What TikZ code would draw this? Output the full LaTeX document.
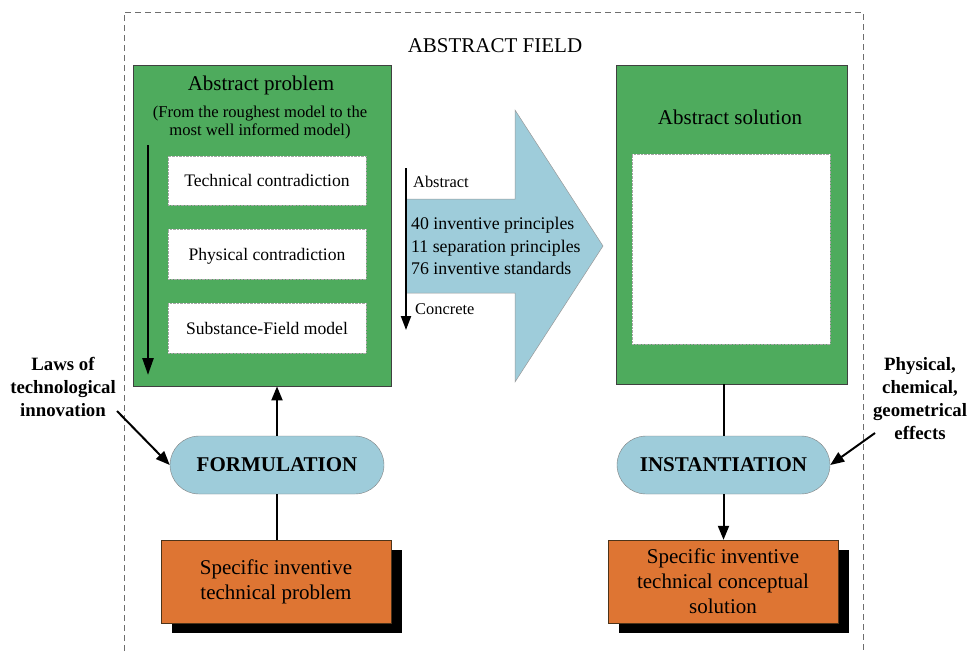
\documentclass[tikz,border=0pt]{standalone}
\usepackage{fontspec}
\setmainfont{Liberation Serif}
\usetikzlibrary{arrows.meta,shadows,calc}
\definecolor{boxgreen}{HTML}{4EAB5D}
\definecolor{pillblue}{HTML}{9ECCDA}
\definecolor{boxorange}{HTML}{DE7533}
\definecolor{framegray}{HTML}{6E6E6E}
\begin{document}
\begin{tikzpicture}[x=1pt,y=-1pt,
  greenbox/.style={draw=black!75, fill=boxgreen, line width=0.8pt, inner sep=0pt},
  whitebox/.style={draw=gray!70, densely dotted, fill=white, inner sep=0pt,
    font=\fontsize{17.6}{20}\selectfont, text height=14pt, text depth=2pt},
  pill/.style={draw=gray, fill=pillblue, rounded corners=29pt, minimum width=214pt,
    minimum height=58pt, inner sep=0pt, font=\bfseries\fontsize{21}{24}\selectfont,
    text height=13.9pt, text depth=0pt},
  orangebox/.style={draw=black!60!brown, fill=boxorange, minimum width=230pt,
    minimum height=83pt, inner sep=0pt, align=center,
    font=\fontsize{21}{25}\selectfont,
    drop shadow={shadow xshift=11pt, shadow yshift=-10pt, fill=black, opacity=1}},
  conn/.style={line width=2pt, -{Triangle[length=14pt,width=11pt]}},
  plainconn/.style={line width=2pt},
  sidelabel/.style={align=center, inner sep=0pt, font=\bfseries\fontsize{18.8}{23}\selectfont},
  bigarrow/.style={draw=gray!80, fill=pillblue, line width=0.5pt},
  txt/.style={inner sep=0pt}
]
\useasboundingbox (0,0) rectangle (968,651);

% dashed frame
\coordinate (f1) at (124,651);
\coordinate (f2) at (124,12);
\coordinate (f3) at (863,12);
\coordinate (f4) at (863,651);
\draw[framegray, line width=0.9pt, dash pattern=on 6pt off 4pt] (f1) -- (f2) -- (f3) -- (f4);

\node[txt, anchor=base, font=\fontsize{21}{24}\selectfont] (title) at (495,52) {ABSTRACT FIELD};

% left green box
\node[greenbox, minimum width=258pt, minimum height=321pt] (lgreen) at (262,225.5) {};
\node[txt, anchor=base, font=\fontsize{21}{24}\selectfont] (ltitle) at (261,90) {Abstract problem};
\node[txt, anchor=base, font=\fontsize{16.6}{18}\selectfont] (lsub1) at (260,117.5) {(From the roughest model to the};
\node[txt, anchor=base, font=\fontsize{16.6}{18}\selectfont] (lsub2) at (260,135.5) {most well informed model)};
\node[whitebox, minimum width=198pt, minimum height=49pt] (tech) at (267,180.5) {Technical contradiction};
\node[whitebox, minimum width=198pt, minimum height=50pt] (phys) at (267,254) {Physical contradiction};
\node[whitebox, minimum width=198pt, minimum height=50pt] (sfm) at (267,328) {Substance-Field model};
\coordinate (lva) at (148,145);
\coordinate (lvb) at (148,375);
\draw[line width=2.5pt, -{Triangle[length=17pt,width=11pt]}] (lva) -- (lvb);

% big arrow
\coordinate (ba1) at (406,199);
\coordinate (ba2) at (515,199);
\coordinate (ba3) at (515,110);
\coordinate (ba4) at (603,246);
\coordinate (ba5) at (515,382);
\coordinate (ba6) at (515,293);
\coordinate (ba7) at (406,293);
\draw[bigarrow] (ba1) -- (ba2) -- (ba3) -- (ba4) -- (ba5) -- (ba6) -- (ba7) -- cycle;
\coordinate (mva) at (406,168);
\coordinate (mvb) at (406,330);
\draw[line width=2pt, -{Triangle[length=14pt,width=10pt]}] (mva) -- (mvb);
\node[txt, anchor=base west, font=\fontsize{16.4}{18}\selectfont] (abs) at (413,187.5) {Abstract};
\node[txt, anchor=base west, font=\fontsize{16.4}{18}\selectfont] (con) at (415,314.5) {Concrete};
\node[txt, anchor=base west, font=\fontsize{17.8}{20}\selectfont] (p40) at (411,229) {40 inventive principles};
\node[txt, anchor=base west, font=\fontsize{17.8}{20}\selectfont] (p11) at (411,252) {11 separation principles};
\node[txt, anchor=base west, font=\fontsize{17.8}{20}\selectfont] (p76) at (411,274) {76 inventive standards};

% right green box
\node[greenbox, minimum width=231pt, minimum height=319pt] (rgreen) at (731.5,224.5) {};
\node[txt, anchor=base, font=\fontsize{21}{24}\selectfont] (rtitle) at (730,124) {Abstract solution};
\node[whitebox, minimum width=198pt, minimum height=190pt] (rwhite) at (731,249) {};

% pills
\node[pill] (form) at (277,465) {FORMULATION};
\node[pill, minimum width=213pt] (inst) at (723.5,465) {INSTANTIATION};

% orange boxes
\node[orangebox] (lorange) at (276,581.5) {Specific inventive\\technical problem};
\node[orangebox] (rorange) at (723,581.5) {Specific inventive\\technical conceptual\\solution};

% side labels
\node[sidelabel, anchor=base] (laws) at (63,416) {Laws of\\technological\\innovation};
\node[sidelabel, anchor=base] (effects) at (920,439) {Physical,\\chemical,\\geometrical\\effects};
\coordinate (lawsstart) at (117,411);
\coordinate (physstart) at (875,433);

% connectors
\draw[conn] (form.north) -- (form.north |- lgreen.south);
\draw[plainconn] (lorange.north -| form.south) -- (form.south);
\draw[plainconn] (inst.north |- rgreen.south) -- (inst.north);
\draw[conn] (inst.south) -- (inst.south |- rorange.north);
\draw[conn] (lawsstart) -- (form.west);
\draw[conn] (physstart) -- (inst.east);
\end{tikzpicture}
\end{document}
